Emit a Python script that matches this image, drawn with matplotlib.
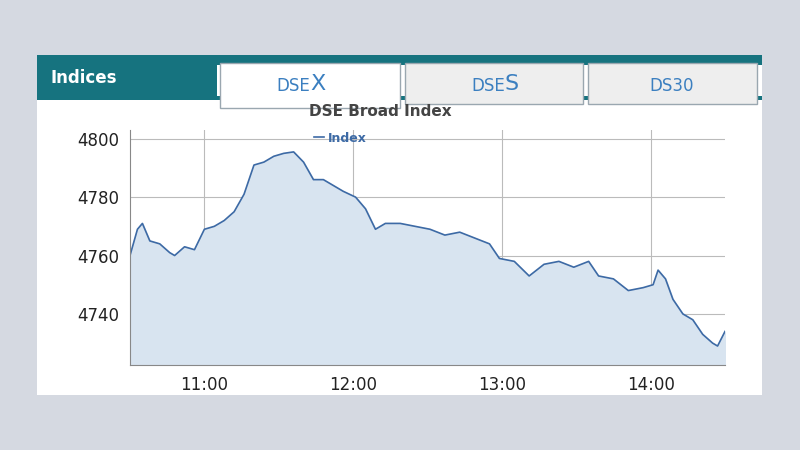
import matplotlib
matplotlib.use("Agg")
import matplotlib.pyplot as plt
from matplotlib.patches import Rectangle
import numpy as np

times = ["10:30","10:33","10:35","10:38","10:42","10:46","10:48","10:52","10:56","11:00","11:04","11:08","11:12","11:16","11:20","11:24","11:28","11:32","11:36","11:40","11:44","11:48","11:52","11:56","12:01","12:05","12:09","12:13","12:19","12:25","12:31","12:37","12:43","12:49","12:55","12:59","13:05","13:11","13:17","13:23","13:29","13:35","13:39","13:45","13:51","13:57","14:01","14:03","14:06","14:09","14:13","14:17","14:21","14:25","14:27","14:30"]
values = [4760,4769,4771,4765,4764,4761,4760,4763,4762,4769,4770,4772,4775,4781,4791,4792,4794,4795,4795.5,4792,4786,4786,4784,4782,4780,4776,4769,4771,4771,4770,4769,4767,4768,4766,4764,4759,4758,4753,4757,4758,4756,4758,4753,4752,4748,4749,4750,4755,4752,4745,4740,4738,4733,4730,4729,4734]
xticks = ["11:00","12:00","13:00","14:00"]

def tomin(t):
    h, m = t.split(":"); return int(h)*60+int(m)
x = np.array([tomin(t) for t in times])

fig = plt.figure(figsize=(8,4.5), dpi=100)
fig.patch.set_facecolor("#d5d9e1")
W, H = 800, 450
def rect(x0,y0,x1,y1,fc,ec="none",lw=0):
    fig.add_artist(Rectangle((x0/W,1-y1/H),(x1-x0)/W,(y1-y0)/H,transform=fig.transFigure,facecolor=fc,edgecolor=ec,lw=lw,zorder=0))
rect(37,55,762,395,"white")
rect(37,55,762,65,"#16737f")
rect(37,55,217,100,"#16737f")
rect(217,96,762,100,"#16737f")
rect(220,63,400,108,"white","#9aa7b0",1)
rect(405,63,583,104,"#eeeeee","#9aa7b0",1)
rect(588,63,757,104,"#eeeeee","#9aa7b0",1)
fig.text(50/W,1-78/H,"Indices",color="white",fontsize=12,fontweight="bold",va="center")
fig.text(310/W,1-86/H,"DSE",color="#3b7fc0",fontsize=12,ha="right",va="center")
fig.text(310/W,1-84/H,"X",color="#3b7fc0",fontsize=16,ha="left",va="center")
fig.text(505/W,1-86/H,"DSE",color="#3b7fc0",fontsize=12,ha="right",va="center")
fig.text(505/W,1-84/H,"S",color="#3b7fc0",fontsize=16,ha="left",va="center")
fig.text(672/W,1-86/H,"DS30",color="#3b7fc0",fontsize=12,ha="center",va="center")
fig.text(380/W,1-112/H,"DSE Broad Index",color="#444444",fontsize=11,fontweight="bold",ha="center",va="center")

ax = fig.add_axes([130/W, 1-365/H, 595/W, 235/H])
ax.set_zorder(5)
ax.patch.set_alpha(0)
ax.fill_between(x, values, 4700, color="#d8e4f0")
ax.plot(x, values, color="#3d6aa5", lw=1.2, label="Index")
ax.set_xlim(tomin("10:30"), tomin("14:30"))
ax.set_ylim(4722.5, 4803)
ax.set_xticks([tomin(t) for t in xticks]); ax.set_xticklabels(xticks)
ax.set_yticks([4740,4760,4780,4800])
ax.grid(True, color="#bbbbbb", lw=0.8)
ax.set_axisbelow(True)
for s in ["top","right"]: ax.spines[s].set_visible(False)
ax.spines["left"].set_color("#888888"); ax.spines["bottom"].set_color("#888888")
ax.tick_params(labelsize=12, colors="#222222", length=0, pad=8)
ax.legend(loc="upper left", bbox_to_anchor=(0.29,1.04), frameon=False,
          handlelength=0.8, handletextpad=0.3, labelcolor="#3d6aa5", prop={"weight":"bold","size":9})
fig.savefig("out.png", dpi=100)
